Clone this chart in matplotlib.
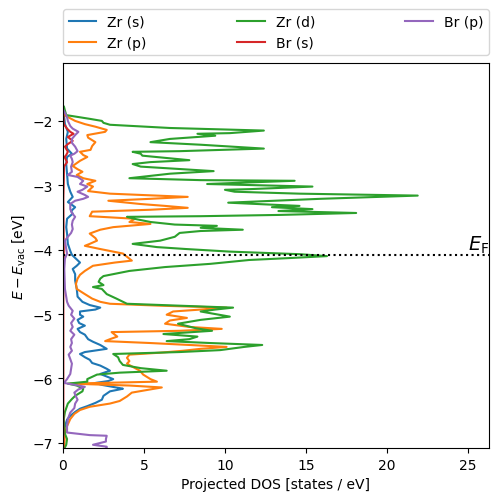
import matplotlib
matplotlib.use("Agg")
import matplotlib.pyplot as plt

# Fermi level relative to vacuum [eV]
e_fermi = -4.08

# Zr s
e_zr_s = [-1.81, -2.05, -2.17, -2.28, -2.43, -2.51, -2.56, -2.67, -2.82, -2.98, -3.10, -3.18, -3.26,
          -3.34, -3.40, -3.44, -3.52, -3.65, -3.75, -3.91, -4.02, -4.08, -4.14, -4.20, -4.25, -4.30,
          -4.38, -4.48, -4.61, -4.73, -4.81, -4.86, -4.90, -4.93, -4.96, -5.01, -5.04, -5.09, -5.14,
          -5.18, -5.23, -5.28, -5.32, -5.39, -5.43, -5.48, -5.54, -5.59, -5.62, -5.67, -5.71, -5.76,
          -5.80, -5.85, -5.88, -5.93, -5.96, -6.01, -6.04, -6.07, -6.10, -6.15, -6.16, -6.20, -6.27,
          -6.33, -6.38, -6.43, -6.47, -6.52, -6.58, -6.64, -6.78, -7.08]
dos_zr_s = [0.02, 0.12, 0.3, 0.2, 0.25, 0.55, 0.25, 0.2, 0.25, 0.3, 0.45, 0.6, 0.3,
            0.75, 0.5, 0.6, 0.25, 0.2, 0.25, 0.3, 0.45, 0.55, 0.8, 1.05, 0.85, 0.6,
            0.75, 0.75, 0.85, 0.9, 1.2, 1.65, 2.3, 2.0, 1.05, 1.05, 1.25, 0.9, 1.0,
            1.35, 0.9, 1.05, 1.35, 1.55, 1.85, 2.3, 2.7, 1.35, 1.05, 1.35, 1.65, 1.8,
            2.3, 2.7, 2.9, 2.3, 2.6, 3.1, 2.8, 2.0, 2.4, 3.5, 3.7, 2.9, 2.5,
            2.4, 2.0, 1.5, 1.05, 0.75, 0.45, 0.25, 0.08, 0.04]

# Zr p
e_zr_p = [-1.84, -1.91, -1.94, -2.00, -2.05, -2.09, -2.14, -2.17, -2.22, -2.26, -2.33, -2.39, -2.45,
          -2.48, -2.53, -2.56, -2.62, -2.70, -2.75, -2.79, -2.84, -2.89, -2.93, -2.98, -3.02, -3.09,
          -3.13, -3.18, -3.21, -3.24, -3.29, -3.32, -3.35, -3.38, -3.41, -3.48, -3.52, -3.57, -3.60,
          -3.65, -3.69, -3.75, -3.82, -3.86, -3.91, -3.94, -3.99, -4.02, -4.06, -4.11, -4.17, -4.20,
          -4.25, -4.33, -4.39, -4.45, -4.53, -4.61, -4.69, -4.76, -4.81, -4.84, -4.87, -4.90, -4.93,
          -4.96, -5.01, -5.06, -5.10, -5.15, -5.20, -5.23, -5.26, -5.28, -5.32, -5.35, -5.39, -5.42,
          -5.45, -5.48, -5.51, -5.54, -5.57, -5.60, -5.63, -5.68, -5.73, -5.77, -5.82, -5.88, -5.94,
          -6.01, -6.05, -6.08, -6.11, -6.14, -6.17, -6.22, -6.28, -6.35, -6.39, -6.44, -6.49, -6.55,
          -6.63, -6.74, -6.86, -7.08]
dos_zr_p = [0.05, 0.1, 0.3, 0.75, 1.35, 2.0, 2.7, 2.6, 1.5, 1.55, 2.0, 1.8, 1.7,
            1.05, 1.25, 1.5, 1.05, 0.6, 0.9, 1.2, 0.85, 1.25, 2.0, 1.5, 1.85, 1.55,
            2.9, 7.7, 5.4, 2.8, 4.75, 6.3, 7.7, 5.4, 1.8, 1.65, 4.45, 4.1, 5.4,
            3.1, 2.3, 1.65, 2.0, 2.1, 1.65, 1.35, 2.3, 2.9, 3.7, 3.95, 4.25, 3.2,
            1.85, 1.35, 1.05, 0.9, 0.8, 0.85, 1.35, 1.8, 2.3, 2.9, 6.0, 10.1, 8.5,
            6.8, 6.4, 7.65, 6.6, 6.3, 7.8, 9.8, 7.2, 3.0, 3.2, 3.35, 2.9, 2.6,
            5.4, 7.8, 10.1, 8.5, 7.4, 6.0, 4.1, 3.95, 4.1, 3.95, 4.3, 4.75, 4.95,
            5.4, 5.8, 0.45, 4.1, 6.1, 5.4, 4.25, 3.95, 3.5, 2.9, 1.65, 1.05, 0.7,
            0.45, 0.25, 0.12, 0.06]

# Zr d
e_zr_d = [-1.78, -1.84, -1.91, -1.97, -2.00, -2.03, -2.06, -2.11, -2.15, -2.19, -2.20, -2.23, -2.28,
          -2.33, -2.37, -2.43, -2.47, -2.48, -2.51, -2.54, -2.61, -2.64, -2.67, -2.71, -2.78, -2.82,
          -2.89, -2.92, -2.93, -2.96, -2.98, -3.02, -3.06, -3.07, -3.10, -3.13, -3.16, -3.21, -3.27,
          -3.30, -3.32, -3.34, -3.37, -3.40, -3.43, -3.46, -3.48, -3.49, -3.52, -3.57, -3.61, -3.63,
          -3.66, -3.69, -3.71, -3.74, -3.80, -3.86, -3.91, -3.96, -3.99, -4.03, -4.07, -4.10, -4.13,
          -4.16, -4.22, -4.27, -4.33, -4.41, -4.45, -4.50, -4.55, -4.58, -4.61, -4.69, -4.76, -4.84,
          -4.87, -4.90, -4.93, -4.96, -5.00, -5.04, -5.09, -5.15, -5.22, -5.26, -5.31, -5.35, -5.39,
          -5.42, -5.45, -5.48, -5.51, -5.56, -5.59, -5.62, -5.67, -5.73, -5.79, -5.84, -5.88, -5.91,
          -5.94, -6.01, -6.05, -6.08, -6.11, -6.16, -6.20, -6.27, -6.32, -6.39, -6.52, -6.63, -6.86,
          -6.94, -7.03, -7.08]
dos_zr_d = [0.06, 0.12, 0.2, 1.7, 2.4, 2.5, 2.9, 6.6, 12.4, 10.3, 8.3, 9.4, 6.6,
            5.4, 8.5, 12.4, 7.2, 4.3, 4.8, 4.9, 7.8, 5.4, 4.3, 4.8, 9.3, 6.6,
            4.1, 8.5, 14.3, 11.0, 8.9, 15.4, 11.5, 10.0, 10.6, 14.6, 21.9, 15.9, 10.2,
            12.8, 14.6, 12.9, 15.4, 13.3, 18.1, 13.4, 8.5, 3.95, 4.4, 5.4, 6.9, 9.5,
            8.5, 11.1, 8.5, 7.2, 6.9, 6.0, 4.3, 5.8, 7.6, 10.3, 14.6, 16.3, 14.0,
            11.5, 9.1, 6.3, 4.1, 2.5, 2.3, 2.2, 2.5, 1.85, 2.4, 2.7, 3.3, 3.95,
            7.2, 10.5, 9.4, 8.5, 9.4, 10.3, 8.5, 7.1, 8.2, 9.2, 6.2, 8.3, 7.8,
            6.4, 9.1, 12.3, 11.2, 9.7, 7.2, 3.1, 3.4, 3.5, 3.7, 4.8, 6.4, 3.5,
            2.1, 1.5, 1.5, 0.3, 0.85, 1.25, 1.2, 0.75, 0.55, 0.3, 0.12, 0.05, 0.12,
            0.25, 0.2, 0.1]

# Br s
e_br_s = [-1.89, -2.05, -2.12, -2.17, -2.20, -2.25, -2.28, -2.31, -2.36, -2.40, -2.48, -2.53, -2.56,
          -2.64, -2.71, -2.90, -3.21, -4.14, -4.76, -7.08]
dos_br_s = [0.02, 0.05, 0.25, 0.45, 0.65, 0.3, 0.45, 0.6, 0.3, 0.12, 0.3, 0.2, 0.1,
            0.25, 0.06, 0.05, 0.02, 0.05, 0.02, 0.02]

# Br p
e_br_p = [-1.84, -1.94, -2.00, -2.08, -2.12, -2.17, -2.22, -2.28, -2.34, -2.40, -2.47, -2.51, -2.54,
          -2.59, -2.64, -2.71, -2.79, -2.84, -2.87, -2.93, -2.98, -3.02, -3.07, -3.10, -3.15, -3.18,
          -3.21, -3.24, -3.29, -3.37, -3.43, -3.49, -3.55, -3.61, -3.68, -3.74, -3.80, -3.86, -3.99,
          -4.06, -4.14, -4.30, -4.61, -4.81, -4.87, -4.95, -5.01, -5.07, -5.14, -5.20, -5.26, -5.32,
          -5.39, -5.45, -5.51, -5.57, -5.63, -5.70, -5.77, -5.85, -5.93, -6.01, -6.07, -6.10, -6.13,
          -6.17, -6.22, -6.28, -6.33, -6.39, -6.46, -6.53, -6.63, -6.75, -6.84, -6.88, -6.89, -6.94,
          -6.98, -7.03, -7.06, -7.08]
dos_br_p = [0.05, 0.25, 0.3, 0.45, 0.6, 0.95, 0.75, 0.55, 0.55, 0.75, 0.9, 0.7, 0.45,
            0.55, 0.6, 0.5, 0.55, 0.3, 0.9, 1.25, 1.05, 1.5, 1.2, 0.9, 1.35, 1.55,
            1.25, 0.75, 0.45, 0.45, 0.55, 0.75, 0.6, 0.55, 0.6, 0.5, 0.3, 0.12, 0.2,
            0.25, 0.12, 0.08, 0.12, 0.25, 0.35, 0.6, 0.5, 0.7, 0.5, 0.6, 0.45, 0.7,
            0.5, 0.55, 0.45, 0.55, 0.35, 0.45, 0.55, 0.5, 0.45, 0.25, 0.06, 0.75, 1.35,
            0.95, 0.7, 0.8, 0.9, 0.75, 0.7, 0.45, 0.3, 0.25, 0.25, 1.65, 2.7, 2.65,
            2.65, 1.85, 2.7, 2.7]

series = [
    ("Zr (s)", e_zr_s, dos_zr_s),
    ("Zr (p)", e_zr_p, dos_zr_p),
    ("Zr (d)", e_zr_d, dos_zr_d),
    ("Br (s)", e_br_s, dos_br_s),
    ("Br (p)", e_br_p, dos_br_p),
]

fig = plt.figure(figsize=(4.98, 5.02), dpi=100)
ax = fig.add_axes([0.1265, 0.1056, 0.8554, 0.767])

for label, e, d in series:
    ax.plot(d, e, label=label)

ax.axhline(e_fermi, color="k", linestyle=":", linewidth=1.5)
ax.text(25.0, e_fermi, r"$E_{\mathrm{F}}$", fontsize=14, ha="left", va="bottom")

ax.set_xlim(0, 26.3)
ax.set_ylim(-7.08, -1.1)
ax.set_yticks([-7, -6, -5, -4, -3, -2])
ax.set_xticks([0, 5, 10, 15, 20, 25])
ax.set_xlabel("Projected DOS [states / eV]")
ax.set_ylabel(r"$E - E_{\mathrm{vac}}$ [eV]")

ax.legend(loc="lower left", bbox_to_anchor=(0.0, 1.02, 1.0, 0.102), ncol=3,
          mode="expand", borderaxespad=0.0)

fig.savefig("out.png", dpi=100)
